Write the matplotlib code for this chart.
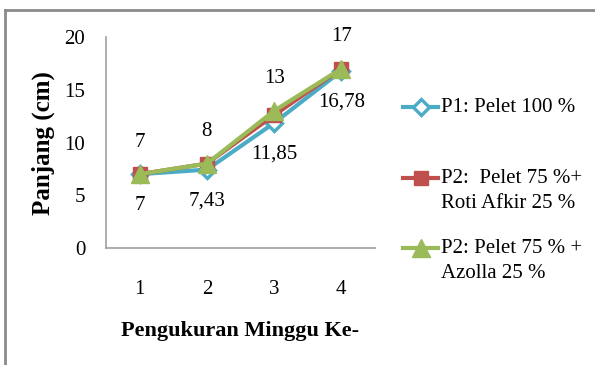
import matplotlib
matplotlib.use("Agg")
import matplotlib.pyplot as plt
from matplotlib.lines import Line2D

plt.rcParams['font.family'] = ['Liberation Serif', 'DejaVu Serif']

weeks = [1, 2, 3, 4]
week_labels = ["1", "2", "3", "4"]
p1 = [7, 7.43, 11.85, 16.78]
p2_roti = [7, 8, 12.6, 17]
p3_azolla = [7, 8, 13, 17]
p1_labels = ["7", "7,43", "11,85", "16,78"]
p3_labels = ["7", "8", "13", "17"]
yticks = [0, 5, 10, 15, 20]

series_names = ["P1: Pelet 100 %",
                "P2:  Pelet 75 %+\nRoti Afkir 25 %",
                "P2: Pelet 75 % +\nAzolla 25 %"]
colors = ["#4BACC6", "#C0504D", "#9BBB59"]

W, H = 595, 365
fig = plt.figure(figsize=(W / 100, H / 100), dpi=100)
fig.patch.set_facecolor("white")

# outer frame (open to the right and bottom)
fig.add_artist(Line2D([5 / W, 5 / W], [0, 1 - 10 / H], transform=fig.transFigure,
                      color="#8a8a8a", lw=2))
fig.add_artist(Line2D([5 / W, 1], [1 - 10 / H, 1 - 10 / H], transform=fig.transFigure,
                      color="#8a8a8a", lw=2))

left, right = 106 / W, 375 / W
bottom, top = 1 - 248 / H, 1 - 37 / H
ax = fig.add_axes([left, bottom, right - left, top - bottom])

mk_styles = [dict(marker="D", ms=8.5, mfc="white", mec=colors[0], mew=2.4),
             dict(marker="s", ms=10.5, mfc=colors[1], mec=colors[1]),
             dict(marker="^", ms=12.5, mfc=colors[2], mec=colors[2])]

for vals, c, mk, z in zip([p1, p2_roti, p3_azolla], colors, mk_styles, [3, 4, 5]):
    ax.plot(weeks, vals, color=c, lw=3, zorder=z, **mk)

for x, y, t in zip(weeks, p1, p1_labels):
    ax.annotate(t, (x, y), xytext=(0, -31), textcoords="offset pixels",
                ha="center", va="center", fontsize=15)
for x, y, t in zip(weeks, p3_azolla, p3_labels):
    ax.annotate(t, (x, y), xytext=(0, 32), textcoords="offset pixels",
                ha="center", va="center", fontsize=15)

ax.set_xlim(0.5, 4.5)
ax.set_ylim(0, 20)
ax.set_xticks(weeks)
ax.set_xticklabels(week_labels)
ax.set_yticks(yticks)
ax.tick_params(axis="both", length=0, labelsize=15)
ax.tick_params(axis="x", pad=23)
ax.tick_params(axis="y", pad=15)
for s in ["top", "right"]:
    ax.spines[s].set_visible(False)
for s in ["left", "bottom"]:
    ax.spines[s].set_color("#a0a0a0")
    ax.spines[s].set_linewidth(1.2)
ax.patch.set_alpha(0)

fig.text(240 / W, 1 - 331 / H, "Pengukuran Minggu Ke-", ha="center", va="center",
         fontsize=16, fontweight="bold")
fig.text(43 / W, 1 - 143 / H, "Panjang (cm)", ha="center", va="center",
         fontsize=18, fontweight="bold", rotation=90)

# legend
entry_y = [107, 178, 248]
for name, c, mk, yy in zip(series_names, colors, mk_styles, entry_y):
    yf = 1 - yy / H
    fig.add_artist(Line2D([403 / W, 438 / W], [yf, yf], transform=fig.transFigure,
                          color=c, lw=3))
    fig.add_artist(Line2D([420.5 / W], [yf], transform=fig.transFigure,
                          color=c, lw=0, **mk))
    fig.text(441 / W, 1 - (yy - 9) / H, name, ha="left", va="top",
             fontsize=15, linespacing=1.45)

fig.savefig("out.png", dpi=100)
